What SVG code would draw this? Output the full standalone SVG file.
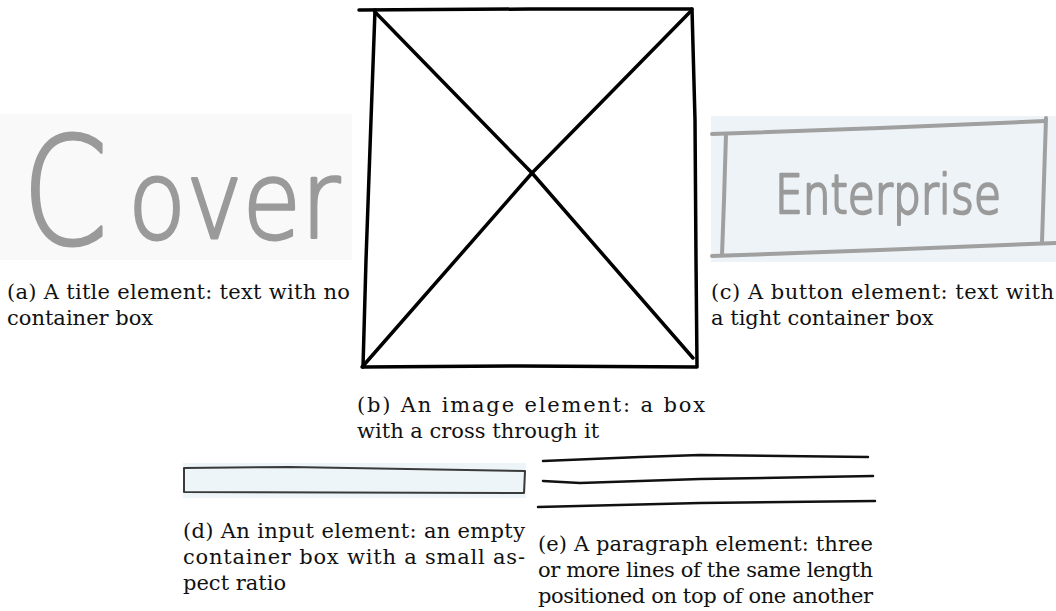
<svg xmlns="http://www.w3.org/2000/svg" width="1056" height="611" viewBox="0 0 1056 611">
  <style>
    .cap { font-family: "DejaVu Serif", "Liberation Serif", serif; font-size: 21px; fill: #111; }
    .hand { font-family: "DejaVu Sans", "Liberation Sans", sans-serif; font-weight: 200; fill: #9a9a9a; stroke: #9a9a9a; stroke-linejoin: round; }
    .ink { fill: none; stroke: #000; stroke-width: 3.5; stroke-linecap: round; stroke-linejoin: round; }
    .grey { fill: none; stroke: #a0a0a0; stroke-width: 4; stroke-linecap: round; }
    .thin { fill: none; stroke: #111; stroke-width: 2.5; stroke-linecap: round; }
  </style>
  <rect width="1056" height="611" fill="#ffffff"/>

  <g id="title-element">
    <rect x="0" y="114" width="352" height="146" fill="#f9f9f9"/>
    <text class="hand" y="244" stroke-width="3"><tspan x="22" font-size="150" textLength="86" lengthAdjust="spacingAndGlyphs">C</tspan><tspan x="128" y="238" font-size="108" textLength="212" lengthAdjust="spacingAndGlyphs">over</tspan></text>
    <text class="cap" x="7" y="299" textLength="343" lengthAdjust="spacing">(a) A title element: text with no</text>
    <text class="cap" x="7" y="325">container box</text>
  </g>

  <g id="image-element">
    <path class="ink" d="M359,10 L530,9 L692,9"/>
    <path class="ink" d="M375,10 L371,120 L366,260 L363,367"/>
    <path class="ink" d="M692,9 L695,120 L696,260 L697,366"/>
    <path class="ink" d="M362,367 L520,366 L697,367"/>
    <path class="ink" d="M375,12 L532,173 L693,358"/>
    <path class="ink" d="M690,12 L532,173 L363,366"/>
    <text class="cap" x="357" y="412" textLength="348" lengthAdjust="spacing">(b) An image element: a box</text>
    <text class="cap" x="357" y="438">with a cross through it</text>
  </g>

  <g id="button-element">
    <rect x="711" y="116" width="345" height="146" fill="#edf3f6"/>
    <path class="grey" d="M712,134 L880,128 L1045,121"/>
    <path class="grey" d="M726,134 L724,200 L722,255"/>
    <path class="grey" d="M1046,118 L1044,180 L1042,242"/>
    <path class="grey" d="M712,256 L880,250 L1056,243"/>
    <text class="hand" x="775" y="213" font-size="54" stroke-width="2.5" textLength="226" lengthAdjust="spacingAndGlyphs">Enterprise</text>
    <text class="cap" x="711" y="299" textLength="343" lengthAdjust="spacing">(c) A button element: text with</text>
    <text class="cap" x="711" y="325">a tight container box</text>
  </g>

  <g id="input-element">
    <rect x="183" y="463" width="343" height="35" fill="#eef5f9"/>
    <path d="M184,468 L290,467 L525,471 L524,493 L184,492 Z" fill="none" stroke="#3a3a3a" stroke-width="2" stroke-linejoin="round"/>
    <text class="cap" x="183" y="538" textLength="342" lengthAdjust="spacing">(d) An input element: an empty</text>
    <text class="cap" x="183" y="564" textLength="342" lengthAdjust="spacing">container box with a small as-</text>
    <text class="cap" x="183" y="590">pect ratio</text>
  </g>

  <g id="paragraph-element">
    <path class="thin" d="M543,461 L640,457 L700,455 L868,457"/>
    <path class="thin" d="M543,481 L580,483 L700,479 L873,476"/>
    <path class="thin" d="M538,507 L700,503 L875,501"/>
    <text class="cap" x="538" y="551" textLength="335" lengthAdjust="spacing">(e) A paragraph element: three</text>
    <text class="cap" x="538" y="577" textLength="335" lengthAdjust="spacing">or more lines of the same length</text>
    <text class="cap" x="538" y="603" textLength="335" lengthAdjust="spacing">positioned on top of one another</text>
  </g>
</svg>
